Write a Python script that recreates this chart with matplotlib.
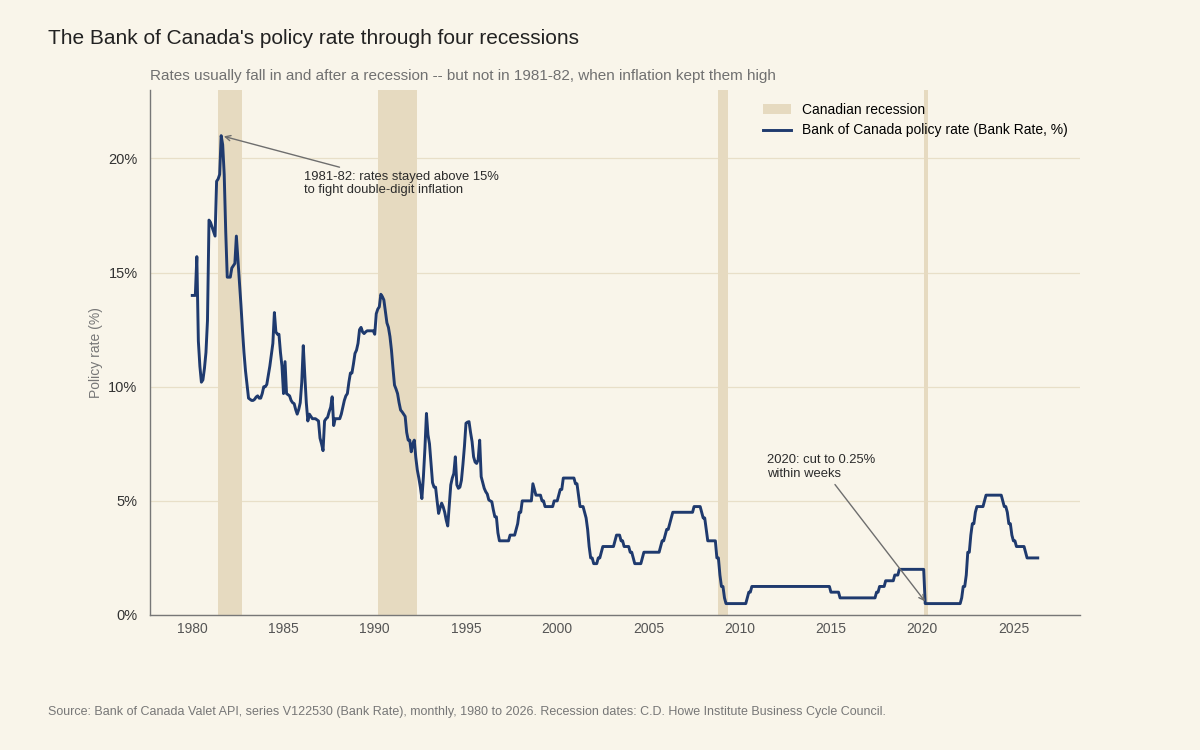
import numpy as np
import matplotlib
matplotlib.use("Agg")
import matplotlib.pyplot as plt

plt.rcParams["font.family"] = ["Liberation Sans", "DejaVu Sans"]

# -----------------------------
# Data (monthly Bank Rate, %, starting Jan 1980)
# -----------------------------

start_year = 1980

rate_1980s = [
    14.0, 14.0, 14.0, 15.7, 12.0, 10.9, 10.2, 10.3, 10.8, 11.5, 12.9, 17.3,
    17.2, 17.0, 16.8, 16.6, 19.0, 19.1, 19.3, 21.0, 20.6, 19.3, 16.8, 14.8,
    14.8, 14.8, 15.2, 15.3, 15.4, 16.6, 15.6, 14.6, 13.6, 12.5, 11.5, 10.7,
    10.1, 9.5, 9.45, 9.4, 9.4, 9.45, 9.55, 9.6, 9.5, 9.5, 9.7, 10.0,
    10.0, 10.1, 10.5, 10.9, 11.4, 11.9, 13.25, 12.4, 12.3, 12.3, 11.5, 10.9,
    9.7, 11.1, 9.7, 9.65, 9.6, 9.4, 9.3, 9.26, 9.0, 8.8, 9.0, 9.3,
    10.2, 11.8, 10.5, 9.3, 8.5, 8.8, 8.7, 8.6, 8.6, 8.6, 8.55, 8.5,
    7.75, 7.5, 7.2, 8.5, 8.6, 8.66, 8.9, 9.1, 9.56, 8.3, 8.6, 8.6,
    8.6, 8.6, 8.8, 9.1, 9.4, 9.6, 9.7, 10.2, 10.6, 10.6, 11.0, 11.46,
    11.6, 11.9, 12.5, 12.6, 12.4, 12.33, 12.4, 12.45, 12.45, 12.45, 12.45, 12.45,
]

rate_1990s = [
    12.3, 13.2, 13.4, 13.5, 14.05, 13.95, 13.8, 13.3, 12.8, 12.6, 12.2, 11.6,
    10.8, 10.07, 9.9, 9.7, 9.3, 8.98, 8.9, 8.8, 8.7, 8.0, 7.66, 7.66,
    7.15, 7.5, 7.66, 6.9, 6.35, 6.0, 5.6, 5.1, 6.06, 7.3, 8.83, 7.9,
    7.5, 6.64, 5.8, 5.6, 5.6, 5.0, 4.45, 4.7, 4.9, 4.74, 4.5, 4.16,
    3.9, 4.8, 5.7, 6.0, 6.2, 6.93, 5.7, 5.55, 5.6, 5.9, 6.6, 7.4,
    8.4, 8.45, 8.47, 8.0, 7.6, 6.93, 6.7, 6.64, 6.8, 7.66, 6.06, 5.8,
    5.55, 5.4, 5.3, 5.04, 5.0, 4.96, 4.6, 4.3, 4.3, 3.6, 3.25, 3.25,
    3.25, 3.25, 3.25, 3.25, 3.25, 3.5, 3.5, 3.5, 3.5, 3.75, 4.0, 4.5,
    4.5, 5.0, 5.0, 5.0, 5.0, 5.0, 5.0, 5.0, 5.75, 5.5, 5.25, 5.25,
    5.25, 5.25, 5.0, 5.0, 4.75, 4.75, 4.75, 4.75, 4.75, 4.75, 5.0, 5.0,
]

rate_2000s = [
    5.0, 5.25, 5.5, 5.5, 6.0, 6.0, 6.0, 6.0, 6.0, 6.0, 6.0, 6.0,
    5.75, 5.75, 5.25, 4.75, 4.75, 4.75, 4.5, 4.25, 3.75, 3.0, 2.5, 2.5,
    2.25, 2.25, 2.25, 2.5, 2.5, 2.75, 3.0, 3.0, 3.0, 3.0, 3.0, 3.0,
    3.0, 3.0, 3.25, 3.5, 3.5, 3.5, 3.25, 3.25, 3.0, 3.0, 3.0, 3.0,
    2.75, 2.75, 2.5, 2.25, 2.25, 2.25, 2.25, 2.25, 2.5, 2.75, 2.75, 2.75,
    2.75, 2.75, 2.75, 2.75, 2.75, 2.75, 2.75, 2.75, 3.0, 3.25, 3.25, 3.5,
    3.75, 3.75, 4.0, 4.25, 4.5, 4.5, 4.5, 4.5, 4.5, 4.5, 4.5, 4.5,
    4.5, 4.5, 4.5, 4.5, 4.5, 4.5, 4.75, 4.75, 4.75, 4.75, 4.75, 4.5,
    4.25, 4.25, 3.75, 3.25, 3.25, 3.25, 3.25, 3.25, 3.25, 2.5, 2.5, 1.75,
    1.25, 1.25, 0.75, 0.5, 0.5, 0.5, 0.5, 0.5, 0.5, 0.5, 0.5, 0.5,
]

rate_2010s = [
    0.5, 0.5, 0.5, 0.5, 0.5, 0.75, 1.0, 1.0, 1.25, 1.25, 1.25, 1.25,
    1.25, 1.25, 1.25, 1.25, 1.25, 1.25, 1.25, 1.25, 1.25, 1.25, 1.25, 1.25,
    1.25, 1.25, 1.25, 1.25, 1.25, 1.25, 1.25, 1.25, 1.25, 1.25, 1.25, 1.25,
    1.25, 1.25, 1.25, 1.25, 1.25, 1.25, 1.25, 1.25, 1.25, 1.25, 1.25, 1.25,
    1.25, 1.25, 1.25, 1.25, 1.25, 1.25, 1.25, 1.25, 1.25, 1.25, 1.25, 1.25,
    1.0, 1.0, 1.0, 1.0, 1.0, 1.0, 0.75, 0.75, 0.75, 0.75, 0.75, 0.75,
    0.75, 0.75, 0.75, 0.75, 0.75, 0.75, 0.75, 0.75, 0.75, 0.75, 0.75, 0.75,
    0.75, 0.75, 0.75, 0.75, 0.75, 0.75, 1.0, 1.0, 1.25, 1.25, 1.25, 1.25,
    1.5, 1.5, 1.5, 1.5, 1.5, 1.5, 1.75, 1.75, 1.75, 2.0, 2.0, 2.0,
    2.0, 2.0, 2.0, 2.0, 2.0, 2.0, 2.0, 2.0, 2.0, 2.0, 2.0, 2.0,
]

rate_2020s = [
    2.0, 2.0, 0.5, 0.5, 0.5, 0.5, 0.5, 0.5, 0.5, 0.5, 0.5, 0.5,
    0.5, 0.5, 0.5, 0.5, 0.5, 0.5, 0.5, 0.5, 0.5, 0.5, 0.5, 0.5,
    0.5, 0.5, 0.75, 1.25, 1.25, 1.75, 2.75, 2.75, 3.5, 4.0, 4.0, 4.5,
    4.75, 4.75, 4.75, 4.75, 4.75, 5.0, 5.25, 5.25, 5.25, 5.25, 5.25, 5.25,
    5.25, 5.25, 5.25, 5.25, 5.25, 5.0, 4.75, 4.75, 4.5, 4.0, 4.0, 3.5,
    3.25, 3.25, 3.0, 3.0, 3.0, 3.0, 3.0, 3.0, 2.75, 2.5, 2.5, 2.5,
    2.5, 2.5, 2.5, 2.5, 2.5,
]

# recession start / end (decimal years)
recession_start = [1981.42, 1990.2, 2008.8, 2020.08]
recession_end = [1982.75, 1992.33, 2009.38, 2020.3]

rates = np.array(rate_1980s + rate_1990s + rate_2000s + rate_2010s + rate_2020s)
years = start_year + np.arange(len(rates)) / 12

# -----------------------------
# Plot
# -----------------------------

bg = "#f9f5ea"
navy = "#1f3a6e"
tan = "#e6dac0"

fig, ax = plt.subplots(figsize=(12, 7.5), dpi=100)
fig.patch.set_facecolor(bg)
ax.set_facecolor(bg)
fig.subplots_adjust(left=0.125, right=0.9, bottom=0.18, top=0.88)

for i, (s, e) in enumerate(zip(recession_start, recession_end)):
    ax.axvspan(s, e, color=tan, lw=0, zorder=1,
               label="Canadian recession" if i == 0 else None)

ax.plot(years, rates, color=navy, lw=2.1, zorder=3,
        label="Bank of Canada policy rate (Bank Rate, %)")

ax.set_ylim(0, 23)
ax.set_yticks([0, 5, 10, 15, 20])
ax.set_yticklabels(["0%", "5%", "10%", "15%", "20%"])
ax.set_xticks(range(1980, 2030, 5))

ax.set_axisbelow(True)
ax.grid(axis="y", color="#e8dfc8", lw=0.9)
ax.grid(axis="x", visible=False)

for side in ["top", "right"]:
    ax.spines[side].set_visible(False)
for side in ["left", "bottom"]:
    ax.spines[side].set_color("#777777")
    ax.spines[side].set_linewidth(1.0)

ax.tick_params(axis="y", length=0, pad=9, labelsize=10.5, labelcolor="#333333")
ax.tick_params(axis="x", length=0, pad=5, labelsize=10, labelcolor="#555555")

ax.set_ylabel("Policy rate (%)", fontsize=10, color="#777777", labelpad=4)

# annotations
peak_i = int(np.argmax(rates))
ax.annotate("1981-82: rates stayed above 15%\nto fight double-digit inflation",
            xy=(years[peak_i], rates[peak_i]), xytext=(1986.1, 18.9),
            ha="left", va="center", fontsize=9.4, color="#2b2b2b",
            arrowprops=dict(arrowstyle="->", color="#6e6e6e", lw=1))

ax.annotate("2020: cut to 0.25%\nwithin weeks",
            xy=(2020.25, 0.5), xytext=(2011.5, 6.5),
            ha="left", va="center", fontsize=9.4, color="#2b2b2b",
            arrowprops=dict(arrowstyle="->", color="#6e6e6e", lw=1))

ax.legend(loc="upper right", frameon=False, fontsize=10)

fig.text(0.04, 0.949, "The Bank of Canada's policy rate through four recessions",
         fontsize=15, color="#222222", va="center")
fig.text(0.125, 0.899,
         "Rates usually fall in and after a recession -- but not in 1981-82, "
         "when inflation kept them high",
         fontsize=11, color="#707070", va="center")
fig.text(0.04, 0.0507,
         "Source: Bank of Canada Valet API, series V122530 (Bank Rate), monthly, "
         "1980 to 2026. Recession dates: C.D. Howe Institute Business Cycle Council.",
         fontsize=9, color="#777777", va="center")

plt.savefig("out.png", dpi=100, facecolor=bg)
